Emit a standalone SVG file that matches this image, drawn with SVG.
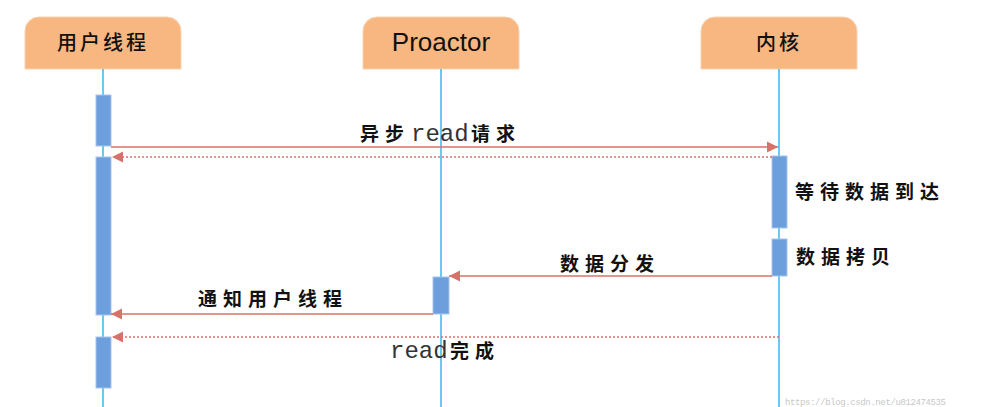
<svg xmlns="http://www.w3.org/2000/svg" width="988" height="407" viewBox="0 0 988 407">
<style>
.hdr{fill:#F8B680;stroke:#FAD2B0;stroke-width:1}
.life{stroke:#3AB6E8;stroke-width:1.5;fill:none}
.act{fill:#6E9FDD;stroke:#A8C3EC;stroke-width:1}
.msg{stroke:#D6726A;stroke-width:1.5;fill:none}
.ret{stroke:#D6726A;stroke-width:1.3;fill:none;stroke-dasharray:2 2}
.cj{font-family:"Noto Sans CJK SC","Noto Sans",sans-serif;font-weight:700;font-size:19px;fill:#111;letter-spacing:6px}
.mono{font-family:"Liberation Mono","DejaVu Sans Mono",monospace;font-size:24px;fill:#333}
.ht{font-family:"Noto Sans CJK SC","Noto Sans",sans-serif;font-size:20px;font-weight:500;fill:#111}
.wm{font-family:"Liberation Mono","DejaVu Sans Mono",monospace;font-size:9px;fill:#C8C8C8}
</style>
<defs>
<marker id="ah" markerUnits="userSpaceOnUse" markerWidth="12" markerHeight="12" refX="11" refY="6" orient="auto">
<path d="M0,0.5 L11,6 L0,11.5 Z" fill="#D6726A"/>
</marker>
</defs>
<g id="node-user">
<path class="hdr" d="M25,69 V31 A14,14 0 0 1 39,17 H167 A14,14 0 0 1 181,31 V69 Z"/>
<text class="ht" x="103" y="50" text-anchor="middle" letter-spacing="3">用户线程</text>
<line class="life" x1="103" y1="69" x2="103" y2="407"/>
<rect class="act" x="96" y="95" width="15" height="51"/>
<rect class="act" x="96" y="157" width="15" height="158"/>
<rect class="act" x="96" y="337" width="15" height="51"/>
</g>
<g id="node-proactor">
<path class="hdr" d="M363,69 V31 A14,14 0 0 1 377,17 H505 A14,14 0 0 1 519,31 V69 Z"/>
<text x="441" y="51" text-anchor="middle" font-family="Liberation Sans, sans-serif" font-size="26" fill="#111">Proactor</text>
<line class="life" x1="441" y1="69" x2="441" y2="407"/>
<rect class="act" x="433" y="277" width="16" height="37"/>
</g>
<g id="node-kernel">
<path class="hdr" d="M701,69 V31 A14,14 0 0 1 715,17 H843 A14,14 0 0 1 857,31 V69 Z"/>
<text class="ht" x="779" y="50" text-anchor="middle" letter-spacing="3">内核</text>
<line class="life" x1="779" y1="69" x2="779" y2="407"/>
<rect class="act" x="772" y="156" width="15" height="72"/>
<rect class="act" x="772" y="239" width="15" height="37"/>
<text class="cj" x="795" y="199">等待数据到达</text>
<text class="cj" x="796" y="264">数据拷贝</text>
</g>
<g id="connectors">
<line class="msg" x1="111" y1="147" x2="778" y2="147" marker-end="url(#ah)"/>
<text class="cj" x="360" y="141" letter-spacing="3">异步</text>
<text class="mono" x="411" y="141">read</text>
<text class="cj" x="471" y="141" letter-spacing="3">请求</text>
<line class="ret" x1="772" y1="157" x2="112" y2="157" marker-end="url(#ah)"/>
<line class="msg" x1="772" y1="276" x2="449" y2="276" marker-end="url(#ah)"/>
<text class="cj" x="560" y="271">数据分发</text>
<line class="msg" x1="433" y1="314" x2="111" y2="314" marker-end="url(#ah)"/>
<text class="cj" x="198" y="306">通知用户线程</text>
<line class="ret" x1="779" y1="337" x2="112" y2="337" marker-end="url(#ah)"/>
<text class="mono" x="390" y="358">read</text>
<text class="cj" x="450" y="358" letter-spacing="3">完成</text>
</g>
<text class="wm" x="785" y="405" textLength="161">https://blog.csdn.net/u012474535</text>
</svg>
